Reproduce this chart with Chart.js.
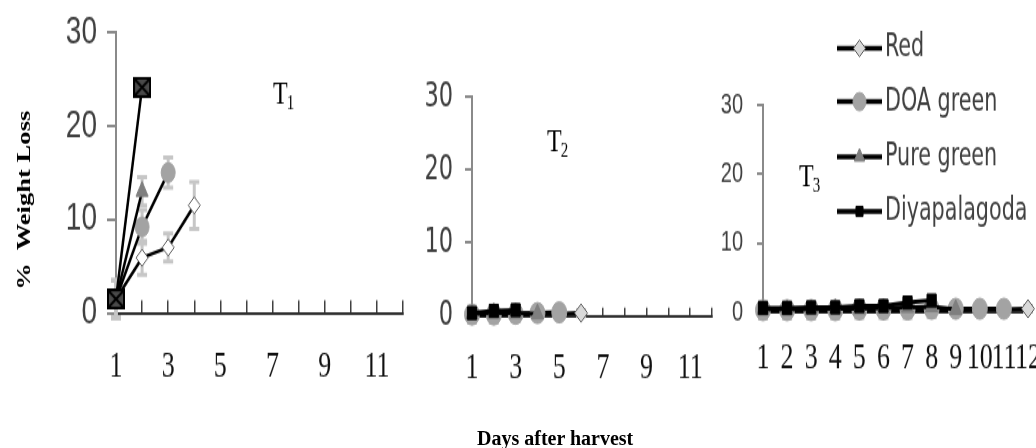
<!DOCTYPE html>
<html>
<head>
<meta charset="utf-8">
<script src="https://cdn.jsdelivr.net/npm/chart.js@4.4.1/dist/chart.umd.min.js"></script>
<style>
  html, body { margin: 0; padding: 0; background: #fff; }
  #fig { position: relative; width: 1036px; height: 448px; overflow: hidden; background: #fff; }
  /* the original figure is a vertically stretched Excel picture */
  #stretch { position: absolute; left: 0; top: 0; width: 1036px; height: 320px; transform: scaleY(1.4); transform-origin: 0 0; }
  #stretch canvas { position: absolute; top: 0; }
  #ytitle { position: absolute; left: 24px; top: 143px; transform: translate(-50%, -50%) rotate(-90deg); font: bold 19px "Liberation Serif", "Times New Roman", serif; white-space: nowrap; color: #000; }
  #xtitle { position: absolute; left: 477px; top: 428px; font: bold 20px "Liberation Serif", "Times New Roman", serif; line-height: 20px; white-space: nowrap; color: #000; }
</style>
</head>
<body>
<div id="fig">
  <div id="stretch">
    <canvas id="t1" width="420" height="300" style="left:0px"></canvas>
    <canvas id="t2" width="320" height="300" style="left:400px"></canvas>
    <canvas id="t3" width="326" height="300" style="left:710px"></canvas>
    <div id="ytitle">%&nbsp; Weight Loss</div>
  </div>
  <div id="xtitle">Days after harvest</div>
</div>
<script>
const days = ["1", "2", "3", "4", "5", "6", "7", "8", "9", "10", "11", "12"];
const oddDays = ["1", "3", "5", "7", "9", "11"];
const seriesNames = ["Red", "DOA green", "Pure green", "Diyapalagoda"];

// T1
const redT1 = [1.5, 5.9, 7.0, 11.5];
const redT1Err = [2.0, 1.8, 1.5, 2.5];
const doaT1 = [1.5, 9.2, 15.0];
const doaT1Err = [2.0, 1.8, 1.6];
const pureT1 = [1.5, 13.0];
const pureT1Err = [2.0, 1.5];
const diyaT1 = [1.5, 24.1];
const diyaT1Err = [2.0, 0.5];

// T2
const redT2 = [0.2, 0.2, 0.2, 0.3, 0.3, 0.4];
const redT2Err = [0.8, 0.8, 0.8, 0.6, 0.6, 0.4];
const doaT2 = [0.2, 0.2, 0.3, 0.4, 0.5];
const doaT2Err = [1.1, 1.1, 1.0, 0.6, 0.6];
const pureT2 = [0.3, 0.4, 0.4, 0.3];
const pureT2Err = [0.5, 0.5, 0.5, 0.4];
const diyaT2 = [0.4, 0.7, 0.8];
const diyaT2Err = [0.3, 0.3, 0.3];

// T3
const redT3 = [0.2, 0.2, 0.2, 0.2, 0.2, 0.2, 0.3, 0.3, 0.3, 0.4, 0.4, 0.5];
const redT3Err = [0.8, 0.8, 0.8, 0.8, 0.8, 0.8, 0.8, 0.8, 0.6, 0.6, 0.6, 0.4];
const doaT3 = [0.3, 0.3, 0.3, 0.3, 0.4, 0.4, 0.4, 0.5, 0.5, 0.5, 0.5];
const doaT3Err = [1.2, 1.2, 1.2, 1.2, 1.2, 1.2, 1.2, 1.2, 0.8, 0.8, 0.8];
const pureT3 = [0.4, 0.4, 0.4, 0.5, 0.5, 0.6, 0.7, 0.8, 0.4];
const pureT3Err = [0.5, 0.5, 0.5, 0.5, 0.5, 0.5, 0.5, 0.5, 0.5];
const diyaT3 = [0.6, 0.6, 0.7, 0.7, 0.9, 0.9, 1.4, 1.7];
const diyaT3Err = [0.3, 0.3, 0.3, 0.3, 0.3, 0.3, 0.3, 0.3];

const serif = "'Liberation Serif', 'Times New Roman', serif";
const sans = "'Liberation Sans', Arial, sans-serif";
const narrow = "'Liberation Sans Narrow', 'DejaVu Sans Condensed', sans-serif";

// dark square with a cross, as drawn in the T1 panel
const crossSquare = (() => {
  const c = document.createElement("canvas");
  c.width = 18;
  c.height = 15;
  const g = c.getContext("2d");
  g.fillStyle = "#4a4a4a";
  g.fillRect(0, 0, 18, 15);
  g.strokeStyle = "#000";
  g.lineWidth = 2;
  g.strokeRect(1, 1, 16, 13);
  g.beginPath();
  g.moveTo(2, 2); g.lineTo(16, 13);
  g.moveTo(16, 2); g.lineTo(2, 13);
  g.stroke();
  return c;
})();

const looks = [
  { pointStyle: "rectRot", bg: "#d9d9d9", border: "#595959", radius: 6.5, order: 3 },
  { pointStyle: "circle", bg: "#a3a3a3", border: "#a3a3a3", radius: 7.5, order: 2 },
  { pointStyle: "triangle", bg: "#7f7f7f", border: "#7f7f7f", radius: 7, order: 1 },
  { pointStyle: "rect", bg: "#000000", border: "#000000", radius: 6.5, order: 0 }
];

const makeDatasets = (values, errors, lineWidth, overrides = []) => values.map((data, i) => {
  const look = Object.assign({}, looks[i], overrides[i] || {});
  return {
    label: seriesNames[i],
    data,
    errors: errors[i],
    order: look.order,
    borderColor: "#000",
    borderWidth: lineWidth,
    tension: 0,
    fill: false,
    clip: false,
    pointStyle: look.pointStyle,
    pointRadius: look.radius,
    pointBackgroundColor: look.bg,
    pointBorderColor: look.border,
    pointBorderWidth: 1
  };
});

const errorBars = {
  id: "errorBars",
  beforeDatasetsDraw(chart) {
    const { ctx, scales: { x, y } } = chart;
    ctx.save();
    ctx.strokeStyle = "#c6c6c6";
    ctx.lineWidth = 3;
    chart.data.datasets.forEach((ds) => {
      (ds.errors || []).forEach((err, i) => {
        const px = x.getPixelForValue(i);
        const top = y.getPixelForValue(ds.data[i] + err);
        const bot = y.getPixelForValue(ds.data[i] - err);
        ctx.beginPath();
        ctx.moveTo(px, top); ctx.lineTo(px, bot);
        ctx.moveTo(px - 5, top); ctx.lineTo(px + 5, top);
        ctx.moveTo(px - 5, bot); ctx.lineTo(px + 5, bot);
        ctx.stroke();
      });
    });
    ctx.restore();
  }
};

const panelLabel = {
  id: "panelLabel",
  afterDraw(chart, args, opts) {
    if (!opts || !opts.sub) return;
    const { ctx } = chart;
    ctx.save();
    ctx.fillStyle = "#000";
    ctx.textBaseline = "alphabetic";
    ctx.font = "24px " + serif;
    ctx.fillText("T", opts.x, opts.y);
    const w = ctx.measureText("T").width;
    ctx.font = "15px " + serif;
    ctx.fillText(opts.sub, opts.x + w - 1, opts.y + 4);
    ctx.restore();
  }
};

const seriesLegend = {
  id: "seriesLegend",
  afterDraw(chart, args, opts) {
    if (!opts || !opts.rows) return;
    const { ctx } = chart;
    chart.data.datasets.forEach((ds, i) => {
      const y = opts.rows[i];
      ctx.save();
      ctx.strokeStyle = "#000";
      ctx.lineWidth = 3.5;
      ctx.beginPath();
      ctx.moveTo(opts.x0, y);
      ctx.lineTo(opts.x1, y);
      ctx.stroke();
      ctx.fillStyle = ds.pointBackgroundColor;
      ctx.strokeStyle = ds.pointBorderColor;
      ctx.lineWidth = 1;
      Chart.helpers.drawPoint(ctx, { pointStyle: ds.pointStyle, radius: opts.radii[i], borderWidth: 1, rotation: 0 }, (opts.x0 + opts.x1) / 2, y);
      ctx.fillStyle = "#404040";
      ctx.font = "23px " + narrow;
      ctx.textBaseline = "middle";
      ctx.fillText(ds.label, opts.x1 + 3, y);
      ctx.restore();
    });
  }
};

const xAxis = (shown, tickLen, pad, height) => ({
  type: "category",
  offset: false,
  grid: { display: true, drawOnChartArea: false, tickLength: tickLen, color: "#404040", lineWidth: 1.5 },
  border: { display: true, color: "#303030", width: 2 },
  ticks: {
    autoSkip: false,
    maxRotation: 0,
    padding: pad,
    color: "#111",
    font: { family: serif, size: 26 },
    callback: function (value) {
      const lab = this.getLabelForValue(value);
      return shown.includes(lab) ? lab : "";
    }
  },
  afterFit: (s) => { s.height = height; s.paddingLeft = 0; s.paddingRight = 0; }
});

const yAxis = (width, tickLen, pad, font) => ({
  min: 0,
  max: 30,
  ticks: { stepSize: 10, padding: pad, color: "#404040", font },
  grid: { drawOnChartArea: false, tickLength: tickLen, color: "#8a8a8a", lineWidth: 2 },
  border: { color: "#8a8a8a", width: 2 },
  afterFit: (s) => { s.width = width; s.paddingTop = 0; s.paddingBottom = 0; }
});

const baseOptions = (padding, scales, plugins) => ({
  responsive: false,
  animation: false,
  events: [],
  layout: { autoPadding: false, padding },
  scales,
  plugins: Object.assign({ legend: { display: false }, tooltip: { enabled: false } }, plugins)
});

new Chart(document.getElementById("t1"), {
  type: "line",
  data: {
    labels: days,
    datasets: makeDatasets(
      [redT1, doaT1, pureT1, diyaT1],
      [redT1Err, doaT1Err, pureT1Err, diyaT1Err],
      2.5,
      [{ bg: "#ffffff", radius: 6 }, { radius: 7 }, null, { pointStyle: crossSquare }]
    )
  },
  options: baseOptions(
    { top: 22.9, right: 17, left: 0, bottom: 0 },
    { x: xAxis(oddDays, -9, 31.6, 76.4), y: yAxis(116, 9, 10, { family: sans, size: 28 }) },
    { panelLabel: { x: 273, y: 74, sub: "1" } }
  ),
  plugins: [errorBars, panelLabel]
});

new Chart(document.getElementById("t2"), {
  type: "line",
  data: {
    labels: days,
    datasets: makeDatasets(
      [redT2, doaT2, pureT2, diyaT2],
      [redT2Err, doaT2Err, pureT2Err, diyaT2Err],
      3
    )
  },
  options: baseOptions(
    { top: 69, right: 8, left: 0, bottom: 0 },
    { x: xAxis(oddDays, -6, 27.9, 74.3), y: yAxis(72, 7, 12, { family: narrow, size: 25 }) },
    { panelLabel: { x: 147, y: 108, sub: "2" } }
  ),
  plugins: [errorBars, panelLabel]
});

new Chart(document.getElementById("t3"), {
  type: "line",
  data: {
    labels: days,
    datasets: makeDatasets(
      [redT3, doaT3, pureT3, diyaT3],
      [redT3Err, doaT3Err, pureT3Err, diyaT3Err],
      3
    )
  },
  options: baseOptions(
    { top: 75, right: 8, left: 0, bottom: 0 },
    { x: xAxis(days, -6, 23.4, 77), y: yAxis(53, 6, 14, { family: sans, size: 20 }) },
    {
      panelLabel: { x: 89, y: 133, sub: "3" },
      seriesLegend: { x0: 127, x1: 172, rows: [34.5, 72.6, 112, 151], radii: [6, 6.5, 6, 5] }
    }
  ),
  plugins: [errorBars, panelLabel, seriesLegend]
});
</script>
</body>
</html>
